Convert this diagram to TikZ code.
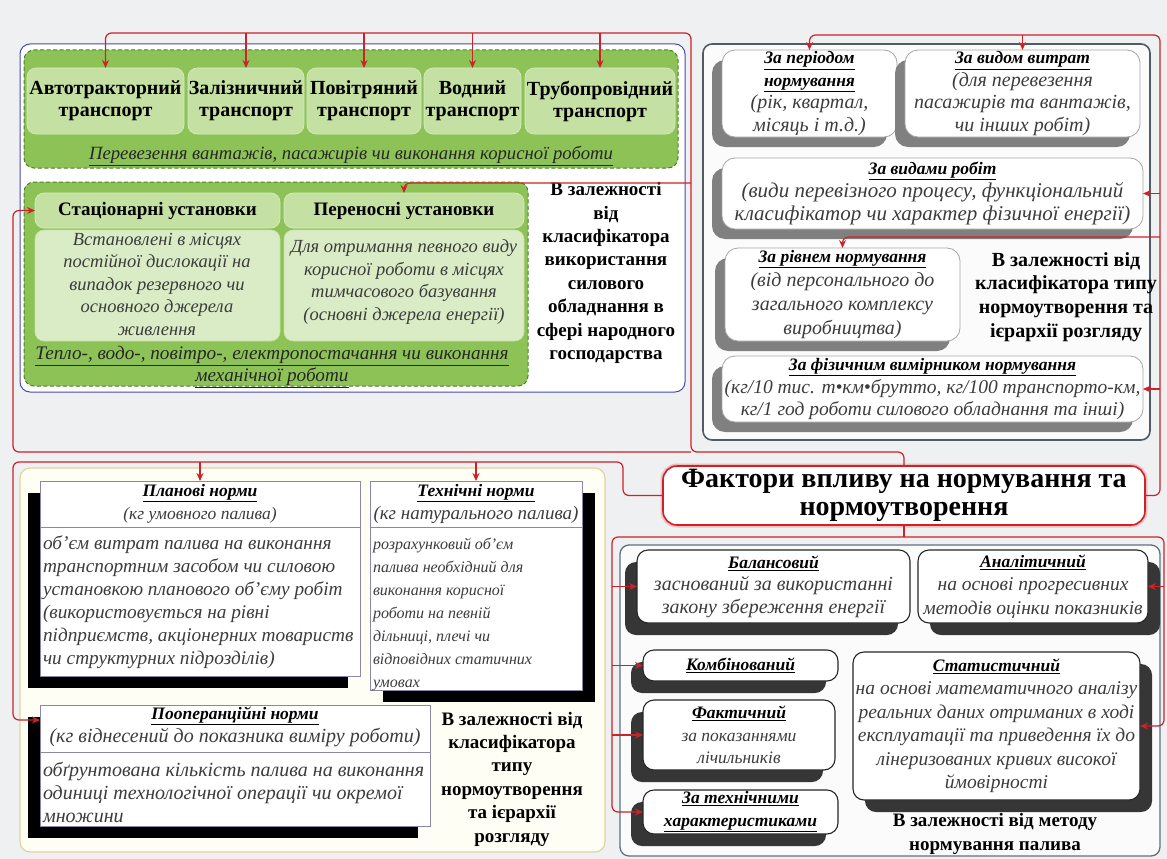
\documentclass[tikz,border=0pt]{standalone}
\usepackage{fontspec}
\setmainfont{Liberation Serif}
\usetikzlibrary{arrows.meta,shadows,calc}
\definecolor{myred}{HTML}{CC2229}
\definecolor{bgc}{HTML}{EFF0F1}
\definecolor{frblue}{HTML}{4B4BB5}
\definecolor{grnD}{HTML}{4F7F2A}
\definecolor{grnM}{HTML}{8DC356}
\definecolor{grnL}{HTML}{C4E0A2}
\definecolor{grnLL}{HTML}{D9ECC5}
\definecolor{slate}{HTML}{4F5C66}
\definecolor{slate2}{HTML}{5B7282}
\definecolor{tanc}{HTML}{E3D2A0}
\definecolor{shgrey}{HTML}{808080}
\definecolor{shdark}{HTML}{363636}
\definecolor{txtg}{HTML}{3C3C3C}
\definecolor{sepc}{HTML}{8C86A8}
\newcommand\fs[2]{\fontsize{#1}{#2}\selectfont}
\newcommand\hdr[1]{{\fontsize{17.5}{23}\selectfont\color{black}\bfseries\underline{#1}}}
\newcommand\bx[7]{\node[#1, minimum width={(#5)-(#3)}, minimum height={(#6)-(#4)}] (#2) at ({((#3)+(#5))/2},{((#4)+(#6))/2}) {#7};}
\tikzset{
  base/.style={inner sep=0pt, outer sep=0pt, align=center},
  bluebox/.style={base, draw=frblue, line width=1pt, rounded corners=10pt, fill=white},
  greenbox/.style={base, draw=grnD, line width=1pt, dash pattern=on 4pt off 2.5pt, rounded corners=10pt, fill=grnM},
  tbox/.style={base, fill=grnL, draw=grnLL, line width=0.6pt, rounded corners=9pt, font=\fs{20}{22}\bfseries},
  gbody/.style={base, fill=grnLL, draw=grnL, line width=0.6pt, rounded corners=9pt},
  gtext/.style={base, font=\fs{18.5}{22.5}\itshape, text=txtg},
  gcap/.style={base, font=\fs{18.7}{22}\itshape, text=black!85},
  btext/.style={base, font=\fs{19}{23.4}\bfseries},
  trframe/.style={base, draw=slate, line width=1.6pt, rounded corners=9pt, fill=white!97!gray},
  trbox/.style={base, fill=white, draw=gray!70, line width=0.8pt, rounded corners=13pt, font=\fs{20}{22.5}\itshape, text=txtg, drop shadow={shadow xshift=-10pt, shadow yshift=-10pt, fill=shgrey, opacity=1}},
  cbox/.style={base, fill=white, draw=myred, line width=1.6pt, rounded corners=14pt, font=\fs{28}{28}\bfseries, preaction={draw=myred!30, line width=5pt}},
  blframe/.style={base, draw=tanc, line width=1.2pt, rounded corners=10pt, fill=white!96!yellow},
  nboxL/.style={base, fill=white, draw=sepc, line width=0.7pt, drop shadow={shadow xshift=-12pt, shadow yshift=-12pt, fill=black, opacity=1}},
  nboxR/.style={base, fill=white, draw=sepc, line width=0.7pt, drop shadow={shadow xshift=13pt, shadow yshift=-12pt, fill=black, opacity=1}},
  sepline/.style={draw=sepc, line width=0.7pt},
  ntext/.style={base, font=\fs{19.3}{23}\itshape, text=txtg},
  brframe/.style={base, draw=slate2, line width=1.3pt, rounded corners=9pt, fill=white!97!gray},
  mboxL/.style={base, fill=white, draw=black!85, line width=1.1pt, rounded corners=11pt, font=\fs{20}{22.5}\itshape, text=txtg, drop shadow={shadow xshift=-12pt, shadow yshift=-12pt, fill=shdark, opacity=1}},
  mboxR/.style={base, fill=white, draw=black!85, line width=1.1pt, rounded corners=11pt, font=\fs{19.5}{23.5}\itshape, text=txtg, drop shadow={shadow xshift=12pt, shadow yshift=-12pt, fill=shdark, opacity=1}},
  conn/.style={draw=myred, line width=1.2pt, rounded corners=6pt},
  arr/.style={conn, -{Stealth[length=8pt,width=7pt]}},
}
\begin{document}
\begin{tikzpicture}[x=1pt,y=-1pt]
\useasboundingbox (0,0) rectangle (1167,859);
\fill[bgc] (0,0) rectangle (1167,859);
% ---------- top-left group
\bx{bluebox}{tlf}{20}{44}{685}{392}{}
\bx{greenbox}{g1}{24}{50}{678}{168}{}
\bx{tbox}{t1}{27}{68}{184}{134}{Автотракторний\\транспорт}
\bx{tbox}{t2}{188}{68}{304}{134}{Залізничний\\транспорт}
\bx{tbox}{t3}{307}{68}{421}{134}{Повітряний\\транспорт}
\bx{tbox}{t4}{424}{68}{521}{134}{Водний\\транспорт}
\bx{tbox}{t5}{525}{68}{675}{134}{Трубопровідний\\транспорт}
\node[gcap] (cap1) at (351,156) {\underline{Перевезення вантажів, пасажирів чи виконання корисної роботи}};
\bx{greenbox}{g2}{24}{182}{528}{386}{}
\bx{tbox,font=\fs{19}{22}\bfseries}{h1}{35}{193}{280}{228}{Стаціонарні установки}
\bx{tbox,font=\fs{19}{22}\bfseries}{h2}{284}{193}{524}{228}{Переносні установки}
\bx{gbody}{b1}{35}{230}{280}{341}{}
\bx{gbody}{b2}{284}{230}{524}{341}{}
\node[gtext] (b1t) at (157,284) {Встановлені в місцях\\постійної дислокації на\\випадок резервного чи\\основного джерела\\живлення};
\node[gtext] (b2t) at (404,282) {Для отримання певного виду\\корисної роботи в місцях\\тимчасового базування\\(основні джерела енергії)};
\node[gcap,font=\fs{19.2}{22}\itshape] (cap2) at (272,367) {\underline{Тепло-, водо-, повітро-, електропостачання чи виконання}\\\underline{механічної роботи}};
\node[btext] (lbl1) at (606,273) {В залежності\\від\\класифікатора\\використання\\силового\\обладнання в\\сфері народного\\господарства};
% ---------- top-right group
\bx{trframe}{trf}{703}{44}{1150}{440}{}
\bx{trbox}{p1}{722}{50}{897}{137}{\hdr{За періодом}\\\hdr{нормування}\\(рік, квартал,\\місяць і т.д.)}
\bx{trbox}{p2}{905}{50}{1140}{137}{\hdr{За видом витрат}\\(для перевезення\\пасажирів та вантажів,\\чи інших робіт)}
\bx{trbox,font=\fs{21}{23}\itshape}{p3}{722}{158}{1143}{229}{\hdr{За видами робіт}\\(види перевізного процесу, функціональний\\класифікатор чи характер фізичної енергії)}
\bx{trbox,font=\fs{20}{24}\itshape}{p4}{725}{248}{960}{341}{\hdr{За рівнем нормування}\\(від персонального до\\загального комплексу\\виробництва)}
\node[btext,font=\fs{20}{23.7}\bfseries] (lbl2) at (1066,297) {В залежності від\\класифікатора типу\\нормоутворення та\\ієрархії розгляду};
\bx{trbox,font=\fs{19.5}{22.5}\itshape}{p6}{722}{356}{1143}{422}{\hdr{За фізичним вимірником нормування}\\(кг/10 тис. т•км•брутто, кг/100 транспорто-км,\\кг/1 год роботи силового обладнання та інші)}
% ---------- central node
\bx{cbox}{C}{663}{466}{1145}{525}{Фактори впливу на нормування та\\нормоутворення}
% ---------- bottom-left group
\bx{blframe}{blf}{20}{468}{605}{852}{}
\bx{nboxL}{n1}{40}{481}{360}{676}{}
\bx{nboxR}{n2}{370}{481}{582}{690}{}
\bx{nboxL}{n3}{40}{705}{430}{826}{}
\draw[sepline] ([yshift=-46pt]n1.north west) -- ([yshift=-46pt]n1.north east);
\draw[sepline] ([yshift=-46pt]n2.north west) -- ([yshift=-46pt]n2.north east);
\draw[sepline] ([yshift=-47pt]n3.north west) -- ([yshift=-47pt]n3.north east);
\node[ntext,font=\fs{17.5}{23}\itshape] (n1h) at (200,503.5) {\hdr{Планові норми}\\(кг умовного палива)};
\node[ntext, anchor=west, align=left] (n1b) at (43,602.5) {об'єм витрат палива на виконання\\транспортним засобом чи силовою\\установкою планового об'єму робіт\\(використовується на рівні\\підприємств, акціонерних товариств\\чи структурних підрозділів)};
\node[ntext,font=\fs{19}{23}\itshape] (n2h) at (476,503.5) {\hdr{Технічні норми}\\(кг натурального палива)};
\node[ntext, font=\fs{16}{23}\itshape, anchor=west, align=left] (n2b) at (373,614) {розрахунковий об'єм\\палива необхідний для\\виконання корисної\\роботи на певній\\дільниці, плечі чи\\відповідних статичних\\умовах};
\node[ntext,font=\fs{20}{23}\itshape] (n3h) at (235,726.5) {\hdr{Пооперанційні норми}\\(кг віднесений до показника виміру роботи)};
\node[ntext, font=\fs{20}{23}\itshape, anchor=west, align=left] (n3b) at (43,792) {обґрунтована кількість палива на виконання\\одиниці технологічної операції чи окремої\\множини};
\node[btext] (lbl3) at (512,779) {В залежності від\\класифікатора\\типу\\нормоутворення\\та ієрархії\\розгляду};
% ---------- bottom-right group
\bx{brframe}{brf}{620}{545}{1160}{856}{}
\bx{mboxL}{m1}{637}{550}{910}{623}{\hdr{Балансовий}\\заснований за використанні\\закону збереження енергії}
\bx{mboxR}{m2}{918}{550}{1148}{623}{\hdr{Аналітичний}\\на основі прогресивних\\методів оцінки показників}
\bx{mboxL}{m3}{643}{650}{838}{681}{\hdr{Комбінований}}
\bx{mboxL,font=\fs{17.5}{22.5}\itshape}{m4}{643}{700}{835}{770}{\hdr{Фактичний}\\за показаннями\\лічильників}
\bx{mboxL}{m5}{643}{790}{838}{834}{\hdr{За технічними}\\\hdr{характеристиками}}
\bx{mboxR}{m6}{853}{652}{1140}{800}{\hdr{Статистичний}\\на основі математичного аналізу\\реальних даних отриманих в ході\\експлуатації та приведення їх до\\лінеризованих кривих високої\\ймовірності}
\node[btext] (lbl4) at (995,834) {В залежності від методу\\нормування палива};
% ---------- connectors
\coordinate (jTL) at (691,452);
\coordinate (tlTop) at (691,33);
\coordinate (tlLeft) at (13,452);
\coordinate (j183) at (691,183);
\draw[arr] (C.north) |- (jTL) -- (tlTop) -| (t1.north);
\foreach \nm in {t2,t3,t4,t5} \draw[arr] (\nm.north |- tlTop) -- (\nm.north);
\draw[arr] (j183) -| (h2.north);
\draw[arr] (jTL) -- (tlLeft) |- (h1.west);
\coordinate (trTop) at (1160,35);
\coordinate (r237) at (1160,237);
\draw[arr] (C.east) -| (trTop) -| (p1.north);
\draw[arr] (p2.north |- trTop) -- (p2.north);
\draw[arr] (trTop |- p3.east) -- (p3.east);
\draw[arr] (r237) -| (p4.north);
\draw[arr] (trTop |- p6.east) -- (p6.east);
\coordinate (blA) at (623,462);
\coordinate (blL) at (13,462);
\draw[arr] (C.west) -| (blA) -- (blL) |- ([yshift=-15pt]n3.north west);
\draw[arr] (n1.north |- blA) -- (n1.north);
\draw[arr] (n2.north |- blA) -- (n2.north);
\coordinate (brT) at (904,537);
\coordinate (brL) at (612,537);
\coordinate (brR) at (1164,537);
\draw[conn] (C.south) -- (brT);
\draw[arr] (brT) -- (brL) |- (m5.west);
\foreach \nm in {m1,m3,m4} \draw[arr] (brL |- \nm.west) -- (\nm.west);
\draw[arr] (brT) -- (brR) |- (m6.east);
\draw[arr] (brR |- m2.east) -- (m2.east);
\end{tikzpicture}
\end{document}
